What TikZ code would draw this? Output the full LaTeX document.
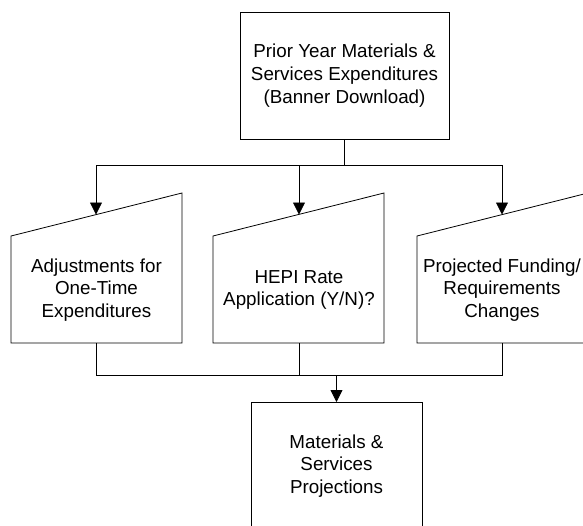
\documentclass[tikz,border=0pt]{standalone}
\usepackage{fontspec}
\setmainfont{Liberation Sans}
\usetikzlibrary{arrows.meta}
\begin{document}
\begin{tikzpicture}[x=1pt,y=-1pt,line width=0.8pt,
  lbl/.style={align=center,font=\fontsize{18.8}{22.7}\selectfont,inner sep=0pt},
  boxnode/.style={draw,rectangle,inner sep=0pt,outer sep=0pt},
  arr/.style={-{Triangle[width=12pt,length=12pt]}}]
\useasboundingbox (0,0) rectangle (583,525);
\clip (0,0) rectangle (583,525);
% top box
\node[boxnode,lbl,minimum width=209pt,minimum height=127pt] (top) at (344.5,75.5)
  {Prior Year Materials \&\\Services Expenditures\\(Banner Download)};
% manual input shapes
\coordinate (adjTop) at (96,214.5);
\coordinate (hepiTop) at (299,214.5);
\coordinate (projTop) at (502,214.5);
\coordinate (adjBot) at (96,343);
\coordinate (hepiBot) at (299,343);
\coordinate (projBot) at (502,343);
\draw (11,236) -- (182,193) -- (182,343) -- (11,343) -- cycle;
\draw (213,236) -- (384,193) -- (384,343) -- (213,343) -- cycle;
\draw (417,236) -- (588,193) -- (588,343) -- (417,343) -- cycle;
\node[lbl] (adj) at (96.5,290) {Adjustments for\\One-Time\\Expenditures};
\node[lbl] (hepi) at (299,290) {HEPI Rate\\Application (Y/N)?};
\node[lbl] (projf) at (502,290) {Projected Funding/\\Requirements\\Changes};
% bottom box
\node[boxnode,lbl,minimum width=171pt,minimum height=128pt] (out) at (336.5,466)
  {Materials \&\\Services\\Projections};
% connectors
\coordinate (split) at (top.south |- 0,165);
\coordinate (join) at (out.north |- 0,375);
\draw (top.south) -- (split);
\draw[arr] (split) -| (adjTop);
\draw[arr] (split) -| (hepiTop);
\draw[arr] (split) -| (projTop);
\draw (adjBot) |- (join);
\draw (hepiBot) |- (join);
\draw (projBot) |- (join);
\draw[arr] (join) -- (out.north);
\end{tikzpicture}
\end{document}
